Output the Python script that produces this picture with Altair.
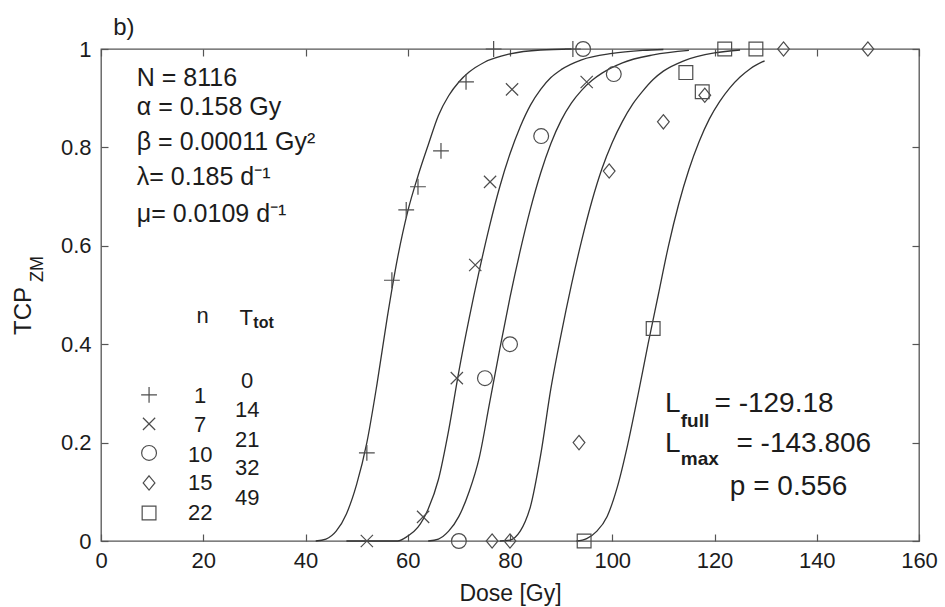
import altair as alt
import pandas as pd

# ---------------- data ----------------
series = ["n=1", "n=7", "n=10", "n=15", "n=22"]

# fitted TCP curves (dose in Gy, TCP)
fit1_dose = [42, 44, 46, 48, 50, 52, 54, 56, 58, 60, 62, 64, 66, 68, 70, 72, 75, 80, 86, 92]
fit1_tcp = [0, 0.004, 0.02, 0.055, 0.115, 0.2, 0.32, 0.455, 0.575, 0.67, 0.742, 0.805, 0.865, 0.905, 0.933, 0.953, 0.973, 0.99, 0.998, 1.0]

fit2_dose = [48, 58, 60, 62, 64, 66, 68, 70, 72, 74, 76, 78, 80, 82, 84, 86, 88, 90, 94, 100, 106, 110]
fit2_tcp = [0, 0, 0.01, 0.028, 0.065, 0.125, 0.225, 0.345, 0.452, 0.55, 0.64, 0.72, 0.787, 0.842, 0.886, 0.918, 0.942, 0.958, 0.978, 0.991, 0.997, 0.999]

fit3_dose = [64, 66, 68, 70, 72, 74, 76, 78, 80, 82, 84, 86, 88, 90, 92, 94, 96, 98, 102, 108, 115]
fit3_tcp = [0, 0.004, 0.02, 0.05, 0.1, 0.17, 0.28, 0.39, 0.495, 0.59, 0.675, 0.748, 0.808, 0.855, 0.89, 0.916, 0.936, 0.951, 0.972, 0.988, 0.997]

fit4_dose = [78, 80, 82, 83, 84, 86, 88, 90, 92, 94, 96, 98, 100, 102, 104, 106, 108, 110, 114, 120, 125]
fit4_tcp = [0, 0.002, 0.02, 0.04, 0.07, 0.175, 0.31, 0.42, 0.52, 0.61, 0.69, 0.757, 0.81, 0.853, 0.888, 0.915, 0.938, 0.955, 0.976, 0.992, 0.998]

fit5_dose = [93, 95, 97, 99, 101, 103, 105, 107, 109, 111, 113, 115, 117, 119, 121, 123, 125, 127, 129.8]
fit5_tcp = [0, 0.005, 0.02, 0.05, 0.11, 0.195, 0.295, 0.4, 0.5, 0.6, 0.685, 0.755, 0.812, 0.858, 0.893, 0.921, 0.943, 0.96, 0.976]

# observed TCP points
obs1_dose = [52.0, 56.9, 59.7, 62.0, 66.5, 71.4, 76.8, 92.3]
obs1_tcp = [0.179, 0.53, 0.673, 0.72, 0.793, 0.933, 1.0, 1.0]
obs2_dose = [52.0, 63.0, 69.6, 73.2, 76.1, 80.4, 95.0]
obs2_tcp = [0.0, 0.049, 0.331, 0.561, 0.73, 0.918, 0.933]
obs3_dose = [70.0, 75.1, 80.0, 86.1, 94.3, 100.3]
obs3_tcp = [0.0, 0.331, 0.40, 0.823, 1.0, 0.949]
obs4_dose = [76.5, 80.0, 93.5, 99.4, 110.0, 118.1, 133.5, 150.0]
obs4_tcp = [0.0, 0.0, 0.2, 0.752, 0.852, 0.906, 1.0, 1.0]
obs5_dose = [94.5, 108.0, 114.4, 117.6, 122.0, 128.1]
obs5_tcp = [0.0, 0.432, 0.952, 0.913, 1.0, 1.0]

# in-plot legend table
legend_n = ["1", "7", "10", "15", "22"]
legend_ttot = ["0", "14", "21", "32", "49"]

# fitted parameters / statistics
param_lines = ["N = 8116", "α = 0.158 Gy", "β = 0.00011 Gy²", "λ= 0.185 d⁻¹", "μ= 0.0109 d⁻¹"]
l_full_value = "= -129.18"
l_max_value = "= -143.806"
p_value = "p = 0.556"

x_ticks = [0, 20, 40, 60, 80, 100, 120, 140, 160]
y_ticks = [0, 0.2, 0.4, 0.6, 0.8, 1.0]

# ---------------- tables ----------------
fits = [(fit1_dose, fit1_tcp), (fit2_dose, fit2_tcp), (fit3_dose, fit3_tcp),
        (fit4_dose, fit4_tcp), (fit5_dose, fit5_tcp)]
obs = [(obs1_dose, obs1_tcp), (obs2_dose, obs2_tcp), (obs3_dose, obs3_tcp),
       (obs4_dose, obs4_tcp), (obs5_dose, obs5_tcp)]

curve_rows = []
for s, (d, t) in zip(series, fits):
    for i, (a, b) in enumerate(zip(d, t)):
        curve_rows.append({"series": s, "dose": a, "tcp": b, "i": i})
curves = pd.DataFrame(curve_rows)

obs_rows = []
for s, (d, t) in zip(series, obs):
    for a, b in zip(d, t):
        obs_rows.append({"series": s, "dose": a, "tcp": b})
points = pd.DataFrame(obs_rows)

# ---------------- styling ----------------
FONT = "Liberation Sans"
TXT = "#1c1c1c"
FRAME = "#555555"
LINE = "#333333"
MARK = "#4d4d4d"

PLUS = "M-1,0L1,0M0,-1L0,1"
CROSS = "M-0.8,-0.8L0.8,0.8M-0.8,0.8L0.8,-0.8"
DIAMOND = "M0,-1L0.82,0L0,1L-0.82,0Z"
shape_scale = alt.Scale(domain=series, range=[PLUS, CROSS, "circle", DIAMOND, "square"])
size_scale = alt.Scale(domain=series, range=[250, 190, 220, 270, 165])

XS = alt.Scale(domain=[0, 160], nice=False, zero=False)
YS = alt.Scale(domain=[0, 1], nice=False, zero=False)

x_bottom = alt.Axis(orient="bottom", values=x_ticks, format="d", offset=-7, tickSize=7,
                    domain=False, grid=False, labelFontSize=22, labelPadding=9,
                    labelFlush=False, labelOverlap=False, title="Dose [Gy]",
                    titleFontSize=23, titleFontWeight="normal", titleBaseline="alphabetic",
                    titleY=66)
y_left = alt.Axis(orient="left", values=y_ticks, format=".1~f", offset=-7, tickSize=7,
                  domain=False, grid=False, labelFontSize=22, labelPadding=10,
                  labelFlush=False, labelOverlap=False, title=None)
x_top = alt.Axis(orient="top", values=x_ticks, offset=-7, tickSize=7, domain=False,
                 grid=False, labels=False, title=None)
y_right = alt.Axis(orient="right", values=y_ticks, offset=-7, tickSize=7, domain=False,
                   grid=False, labels=False, title=None)

lines = alt.Chart(curves).mark_line(color=LINE, strokeWidth=1.3, interpolate="monotone").encode(
    x=alt.X("dose:Q", scale=XS, axis=x_bottom),
    y=alt.Y("tcp:Q", scale=YS, axis=y_left),
    detail="series:N",
    order="i:Q",
)

marks = alt.Chart(points).mark_point(filled=False, color=MARK, strokeWidth=1.2, opacity=1).encode(
    x=alt.X("dose:Q", scale=XS, axis=x_top),
    y=alt.Y("tcp:Q", scale=YS, axis=y_right),
    shape=alt.Shape("series:N", scale=shape_scale, legend=None),
    size=alt.Size("series:N", scale=size_scale, legend=None),
)

# legend symbols (placed in data units inside the axes)
legend_sym = pd.DataFrame({"series": series, "x": [9.4] * 5,
                           "y": [0.297, 0.238, 0.179, 0.118, 0.057]})
leg_marks = alt.Chart(legend_sym).mark_point(filled=False, color=MARK, strokeWidth=1.2, opacity=1).encode(
    x=alt.X("x:Q", scale=XS, axis=None),
    y=alt.Y("y:Q", scale=YS, axis=None),
    shape=alt.Shape("series:N", scale=shape_scale, legend=None),
    size=alt.Size("series:N", scale=size_scale, legend=None),
)


def txt(df, **kw):
    return alt.Chart(pd.DataFrame(df)).mark_text(font=FONT, color=TXT, clip=False, **kw).encode(
        x=alt.X("x:Q", scale=XS, axis=None),
        y=alt.Y("y:Q", scale=YS, axis=None),
        text="t:N",
    )


params = txt({"t": param_lines, "x": [7.0] * 5,
              "y": [0.925, 0.866, 0.795, 0.724, 0.648]},
             align="left", baseline="alphabetic", fontSize=25)

panel = txt({"t": ["b)"], "x": [2.4], "y": [1.029]}, align="left", baseline="alphabetic", fontSize=24)

leg_n = txt({"t": ["n"] + legend_n, "x": [19.9] + [19.4] * 5,
             "y": [0.443, 0.280, 0.2215, 0.1606, 0.1037, 0.0427]},
            align="center", baseline="alphabetic", fontSize=22)
leg_t = txt({"t": legend_ttot, "x": [28.6] * 5,
             "y": [0.311, 0.252, 0.191, 0.134, 0.073]},
            align="center", baseline="alphabetic", fontSize=22)
leg_T = txt({"t": ["T"], "x": [27.1], "y": [0.439]}, align="left", baseline="alphabetic", fontSize=22)
leg_tot = txt({"t": ["tot"], "x": [29.8], "y": [0.432]}, align="left", baseline="alphabetic",
              fontSize=16, fontWeight="bold")

L_big = txt({"t": ["L", l_full_value, "L", l_max_value, p_value],
             "x": [110.3, 120.0, 110.3, 124.3, 123.0],
             "y": [0.262, 0.262, 0.181, 0.181, 0.0935]},
            align="left", baseline="alphabetic", fontSize=28)
L_sub = txt({"t": ["full", "max"], "x": [113.4, 113.4], "y": [0.232, 0.154]},
            align="left", baseline="alphabetic", fontSize=19, fontWeight="bold")

ytitle = txt({"t": ["TCP"], "x": [-15.1], "y": [0.4675]}, align="center", baseline="middle",
             fontSize=24, angle=270)
ytitle_sub = txt({"t": ["ZM"], "x": [-12.3], "y": [0.553]}, align="center", baseline="middle",
                 fontSize=18, angle=270)

chart = alt.layer(
    lines, marks, leg_marks, params, panel, leg_n, leg_t, leg_T, leg_tot, L_big, L_sub,
    ytitle, ytitle_sub,
).resolve_axis(x="independent", y="independent").properties(
    width=818, height=492,
    autosize=alt.AutoSizeParams(type="none"),
    padding={"left": 101, "top": 49, "right": 26, "bottom": 66},
    background="white",
).configure_view(stroke=FRAME, strokeWidth=1.3).configure_axis(
    labelFont=FONT, titleFont=FONT, labelColor=TXT, titleColor=TXT,
    tickColor=FRAME, tickWidth=1.2,
)

chart.save("out.html", embed_options={"renderer": "svg", "actions": False})
